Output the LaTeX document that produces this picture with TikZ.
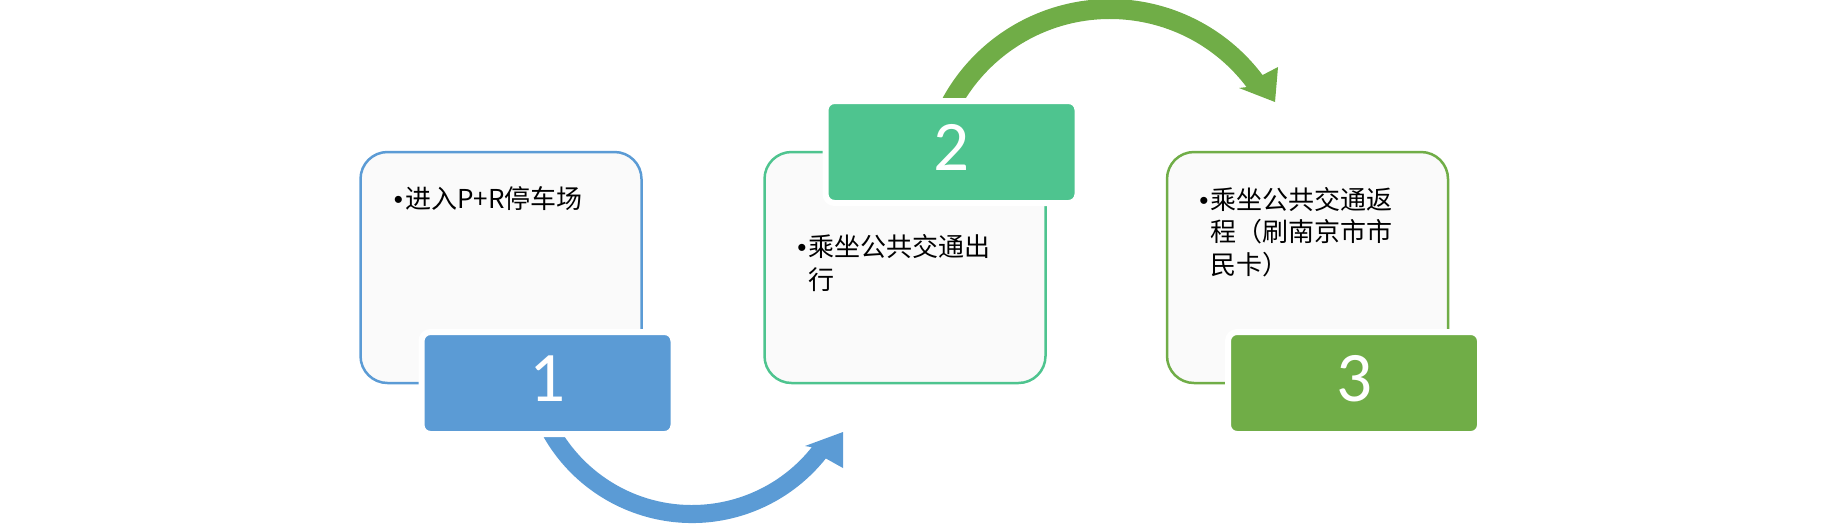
\documentclass[tikz,border=0pt]{standalone}
\usepackage{fontspec}
\setmainfont{Noto Sans CJK SC}
\newfontfamily\numfont{Carlito}
\newfontfamily\bulfont{Liberation Sans}
\usepackage{xcolor}
\usepackage{tikz}
\usetikzlibrary{calc}

\definecolor{blueacc}{RGB}{91,155,213}
\definecolor{tealacc}{RGB}{78,196,143}
\definecolor{greenacc}{RGB}{112,173,71}
\definecolor{panelfill}{RGB}{250,250,250}

\newcommand{\bul}{\makebox[5.75pt][l]{\bulfont •}}
\newcommand{\ind}{\hspace*{5.75pt}}

\tikzset{
  panel/.style={rectangle, rounded corners=13.5pt, line width=1.25pt, fill=panelfill, minimum width=140.5pt, minimum height=115.5pt, inner sep=0pt, outer sep=0pt},
  numbox/.style={rectangle, rounded corners=4.5pt, draw=white, line width=3pt, minimum width=126pt, minimum height=51pt, inner sep=0pt, text=white, font=\numfont\fontsize{35.5pt}{40pt}\selectfont, text depth=4.5pt},
  itemtext/.style={anchor=base west, align=left, inner sep=0pt, font=\fontsize{13pt}{16.25pt}\selectfont}
}

\begin{document}
\begin{tikzpicture}[x=0.5pt, y=-0.5pt]
\useasboundingbox (0,0) rectangle (1839,526);
% curved arrows, drawn first so the boxes cover their tails
\coordinate (bluec) at (692,352);
\coordinate (greenc) at (1110,190);
\fill[blueacc] ($(bluec)+(155:171)$) arc[start angle=155, end angle=38.5, radius=171] -- (843,468) -- (843,432) -- (805,446) -- ($(bluec)+(38.5:153)$) arc[start angle=38.5, end angle=155, radius=153] -- cycle;
\fill[greenacc] ($(greenc)+(205:191)$) arc[start angle=205, end angle=323, radius=191] -- (1278,67) -- (1275,102) -- (1239,88) -- ($(greenc)+(323:171)$) arc[start angle=323, end angle=205, radius=171] -- cycle;
% panels
\node[panel, draw=blueacc] (panel1) at (501,267.5) {};
\node[panel, draw=tealacc] (panel2) at (905,267.5) {};
\node[panel, draw=greenacc] (panel3) at (1307.5,267.5) {};
% number tabs
\node[numbox, fill=blueacc] (num1) at ([xshift=23.25pt]panel1.south) {1};
\node[numbox, fill=tealacc] (num2) at ([xshift=23.25pt]panel2.north) {2};
\node[numbox, fill=greenacc] (num3) at ([xshift=23.25pt]panel3.south) {3};
% bullet texts (base = last line)
\node[itemtext] (text1) at ([xshift=16.5pt, yshift=-28.25pt]panel1.north west) {\bul 进入P+R停车场};
\node[itemtext] (text2) at ([xshift=16.25pt, yshift=-68.5pt]panel2.north west) {\bul 乘坐公共交通出\\\ind 行};
\node[itemtext] (text3) at ([xshift=16pt, yshift=-61pt]panel3.north west) {\bul 乘坐公共交通返\\\ind 程（刷南京市市\\\ind 民卡）};
\end{tikzpicture}
\end{document}
